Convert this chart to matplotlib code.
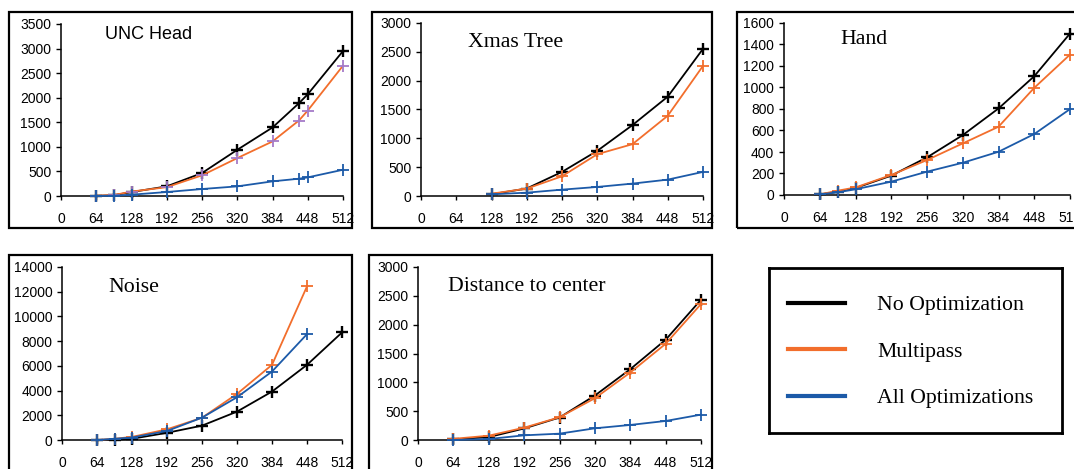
import matplotlib
matplotlib.use("Agg")
import matplotlib.pyplot as plt
from matplotlib.patches import Rectangle
from matplotlib.lines import Line2D

W, H = 1074, 469

series_names = ["No Optimization", "Multipass", "All Optimizations"]
series_colors = ["black", "#F26E2C", "#1C5AA8"]

# UNC Head
unc_x = [64, 96, 128, 192, 256, 320, 384, 432, 448, 512]
unc_none = [5, 15, 80, 196, 467, 940, 1394, 1888, 2070, 2950]
unc_multi = [5, 20, 90, 180, 420, 771, 1110, 1536, 1739, 2652]
unc_all = [0, 5, 27, 81, 142, 196, 298, 352, 379, 534]

# Xmas Tree
xmas_x = [128, 192, 256, 320, 384, 448, 512]
xmas_none = [30, 130, 418, 783, 1230, 1723, 2552]
xmas_multi = [40, 128, 342, 725, 899, 1392, 2256]
xmas_all = [29, 58, 110, 157, 215, 284, 418]

# Hand
hand_x = [64, 96, 128, 192, 256, 320, 384, 448, 512]
hand_none = [5, 30, 65, 180, 350, 557, 805, 1105, 1502]
hand_multi = [5, 40, 70, 186, 325, 480, 635, 997, 1306]
hand_all = [5, 25, 53, 124, 217, 300, 402, 567, 799]

# Noise
noise_x = [64, 96, 128, 192, 256, 320, 384, 448, 512]
noise_none = [0, 30, 100, 581, 1162, 2297, 3919, 6081, 8702]
noise_multi = [0, 100, 250, 865, 1800, 3730, 6081, 12432]
noise_all = [0, 100, 200, 730, 1810, 3459, 5540, 8567]

# Distance to center
dist_x = [64, 128, 192, 256, 320, 384, 448, 512]
dist_none = [10, 50, 200, 390, 771, 1228, 1738, 2433]
dist_multi = [20, 75, 214, 394, 724, 1170, 1668, 2358]
dist_all = [0, 17, 81, 110, 203, 261, 330, 440]

x_ticks = list(range(0, 513, 64))

panels = [
    ("UNC Head", unc_x, [unc_none, unc_multi, unc_all], 3500, 500),
    ("Xmas Tree", xmas_x, [xmas_none, xmas_multi, xmas_all], 3000, 500),
    ("Hand", hand_x, [hand_none, hand_multi, hand_all], 1600, 200),
    ("Noise", noise_x, [noise_none, noise_multi, noise_all], 14000, 2000),
    ("Distance to center", dist_x, [dist_none, dist_multi, dist_all], 3000, 500),
]

# pixel boxes: axes (left, top, right, bottom), frame (left, top, right, bottom)
axes_px = [(61, 24, 343, 196), (421, 23, 703, 196), (784, 23, 1070, 195),
           (62, 267, 342, 440), (418, 267, 701, 440)]
frames_px = [(9, 12, 352, 228), (372, 12, 712, 228), (737, 12, 1090, 228),
             (9, 255, 352, 490), (369, 255, 712, 490)]
title_pos = [(0.156, 0.913), (0.167, 0.863), (0.196, 0.878), (0.164, 0.857), (0.106, 0.861)]

sans = ["Liberation Sans", "DejaVu Sans"]
serif = ["Liberation Serif", "DejaVu Serif"]

fig = plt.figure(figsize=(W / 100, H / 100), dpi=100)


def fbox(l, t, r, b):
    return [l / W, 1 - b / H, (r - l) / W, (b - t) / H]


for (l, t, r, b) in frames_px:
    fig.add_artist(Rectangle((l / W, 1 - b / H), (r - l) / W, (b - t) / H,
                             transform=fig.transFigure, fill=False,
                             edgecolor="black", linewidth=1.6))

for i, (name, xs, ys, ytop, ystep) in enumerate(panels):
    ax = fig.add_axes(fbox(*axes_px[i]))
    for k, y in enumerate(ys):
        mcol = series_colors[k]
        if name == "UNC Head" and k == 1:
            mcol = "#A57BC8"
        ax.plot(xs[:len(y)], y, color=series_colors[k], lw=1.3, marker="+",
                ms=8, mew=1.7 if k == 0 else 1.3, mec=mcol, clip_on=False,
                zorder=3)
    ax.set_xlim(0, 512)
    ax.set_ylim(0, ytop)
    ax.set_xticks(x_ticks)
    ax.set_yticks(range(0, ytop + 1, ystep))
    for s in ["top", "right"]:
        ax.spines[s].set_visible(False)
    for s in ["left", "bottom"]:
        ax.spines[s].set_linewidth(1.1)
    ax.tick_params(axis="x", direction="out", length=3, width=1, pad=8.5)
    ax.tick_params(axis="y", direction="out", length=3.5, width=1, pad=3.5)
    for lab in ax.get_xticklabels() + ax.get_yticklabels():
        lab.set_family(sans)
        lab.set_fontsize(10)
    ax.patch.set_alpha(0)
    tx, ty = title_pos[i]
    if name == "UNC Head":
        ax.text(tx, ty, name, transform=ax.transAxes, family=sans,
                fontsize=13, va="baseline", ha="left")
    else:
        ax.text(tx, ty, name, transform=ax.transAxes, family=serif,
                fontsize=15.7, va="baseline", ha="left")

# legend box
lax = fig.add_axes(fbox(769, 268, 1062, 433))
lax.set_xticks([])
lax.set_yticks([])
for s in lax.spines.values():
    s.set_linewidth(2)
handles = [Line2D([], [], color=c, lw=3) for c in series_colors]
lax.legend(handles, series_names, loc="upper left",
           bbox_to_anchor=(0.065, 0.837), frameon=False, borderpad=0,
           borderaxespad=0, handlelength=2.6, handletextpad=1.5,
           labelspacing=1.21, prop={"family": serif, "size": 15.7})

fig.savefig("out.png", dpi=100)
